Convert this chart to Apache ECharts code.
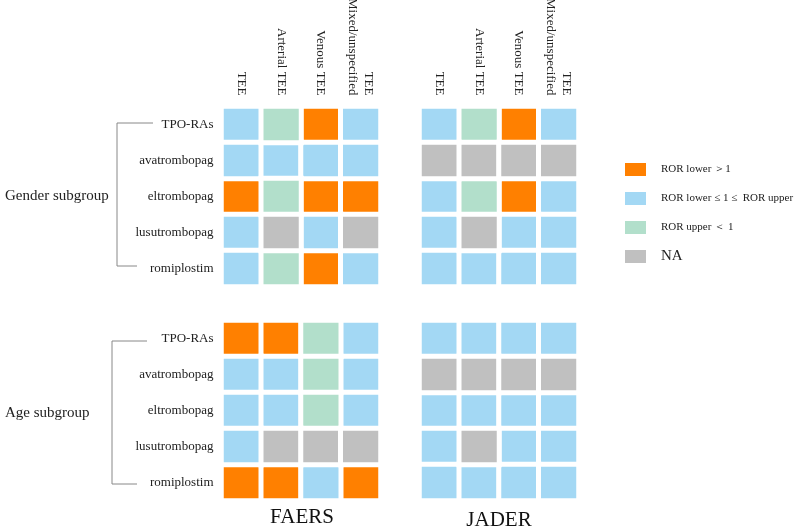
<!DOCTYPE html>
<html>
<head>
<meta charset="utf-8">
<script src="https://cdn.jsdelivr.net/npm/echarts@6/dist/echarts.min.js"></script>
<style>html,body{margin:0;padding:0;background:#fff;}#c{width:794px;height:528px;}</style>
</head>
<body>
<div id="c"></div>
<script>
// categories
var columns = ['TEE', 'Arterial TEE', 'Venous TEE', 'Mixed/unspecified\nTEE'];
var drugs = ['TPO-RAs', 'avatrombopag', 'eltrombopag', 'lusutrombopag', 'romiplostim'];
var classes = ['ROR lower \uFF1E1', 'ROR lower \u2264 1 \u2264  ROR upper', 'ROR upper \uFF1C 1', 'NA'];
var classColors = ['#FF8000', '#A3D8F4', '#B2DFCB', '#C0C0C0'];
// 0 = ROR lower > 1, 1 = lower<=1<=upper, 2 = upper < 1, 3 = NA
var faersGender = [
  [1, 2, 0, 1],
  [1, 1, 1, 1],
  [0, 2, 0, 0],
  [1, 3, 1, 3],
  [1, 2, 0, 1]
];
var jaderGender = [
  [1, 2, 0, 1],
  [3, 3, 3, 3],
  [1, 2, 0, 1],
  [1, 3, 1, 1],
  [1, 1, 1, 1]
];
var faersAge = [
  [0, 0, 2, 1],
  [1, 1, 2, 1],
  [1, 1, 2, 1],
  [1, 3, 3, 3],
  [0, 0, 1, 0]
];
var jaderAge = [
  [1, 1, 1, 1],
  [3, 3, 3, 3],
  [1, 1, 1, 1],
  [1, 3, 1, 1],
  [1, 1, 1, 1]
];
var panels = [faersGender, jaderGender, faersAge, jaderAge];

var FONT = '"Liberation Serif", "Times New Roman", serif';
var gridDefs = [
  {left: 221.5, top: 106.5},
  {left: 419.5, top: 106.5},
  {left: 221.5, top: 320.5},
  {left: 419.5, top: 320.5}
];
var grids = [], xAxes = [], yAxes = [], series = [];
gridDefs.forEach(function (g, i) {
  grids.push({left: g.left, top: g.top, width: 159, height: 180, containLabel: false, outerBoundsMode: 'none'});
  xAxes.push({
    type: 'category', gridIndex: i, data: columns, position: 'top',
    axisLine: {show: false}, axisTick: {show: false}, splitLine: {show: false},
    axisLabel: {
      show: i < 2, rotate: 90, margin: 11, fontFamily: FONT, fontSize: 13, color: '#222', lineHeight: 16,
      // rotated multi-line labels stack in reverse screen order; keep the first line on the left
      formatter: function (v) { return v.split('\n').reverse().join('\n'); }
    }
  });
  yAxes.push({
    type: 'category', gridIndex: i, data: drugs, inverse: true,
    axisLine: {show: false}, axisTick: {show: false}, splitLine: {show: false},
    axisLabel: {show: i % 2 === 0, margin: 8, fontFamily: FONT, fontSize: 13, color: '#222'}
  });
  var panel = panels[i];
  classes.forEach(function (name, c) {
    var data = [];
    panel.forEach(function (row, r) {
      row.forEach(function (v, col) {
        if (v === c) data.push([col, r, v]);
      });
    });
    series.push({
      type: 'heatmap', name: name, xAxisIndex: i, yAxisIndex: i, data: data,
      itemStyle: {color: classColors[c], borderColor: '#fff', borderWidth: 5},
      emphasis: {disabled: true}, label: {show: false}, silent: true
    });
  });
});

var chart = echarts.init(document.getElementById('c'), null, {renderer: 'canvas'});
chart.setOption({
  animation: false,
  color: classColors,
  grid: grids,
  xAxis: xAxes,
  yAxis: yAxes,
  series: series,
  tooltip: {show: false},
  legend: {
    orient: 'vertical', left: 618, top: 156,
    data: classes, icon: 'rect', itemWidth: 23, itemHeight: 15, itemGap: 12,
    selectedMode: false,
    formatter: function (n) { return n === 'NA' ? '{b|NA}' : '{a|' + n + '}'; },
    textStyle: {
      rich: {
        a: {fontFamily: FONT, fontSize: 11, color: '#222', padding: [0, 0, 0, 9], lineHeight: 15},
        b: {fontFamily: FONT, fontSize: 15, color: '#222', padding: [0, 0, 0, 9], lineHeight: 15}
      }
    }
  },
  graphic: [
    {type: 'polyline', shape: {points: [[153, 123], [117, 123], [117, 266], [137, 266]]}, style: {stroke: '#888', lineWidth: 1, fill: null}},
    {type: 'polyline', shape: {points: [[147, 341], [112, 341], [112, 484], [137, 484]]}, style: {stroke: '#888', lineWidth: 1, fill: null}},
    {type: 'text', left: 5, top: 189, style: {text: 'Gender subgroup', font: '15px ' + FONT, fill: '#222'}},
    {type: 'text', left: 5, top: 406, style: {text: 'Age subgroup', font: '15px ' + FONT, fill: '#222'}},
    {type: 'text', x: 302, y: 517, style: {text: 'FAERS', font: '21px ' + FONT, fill: '#111', textAlign: 'center', textVerticalAlign: 'middle'}},
    {type: 'text', x: 499, y: 520, style: {text: 'JADER', font: '21px ' + FONT, fill: '#111', textAlign: 'center', textVerticalAlign: 'middle'}}
  ]
});
</script>
</body>
</html>
